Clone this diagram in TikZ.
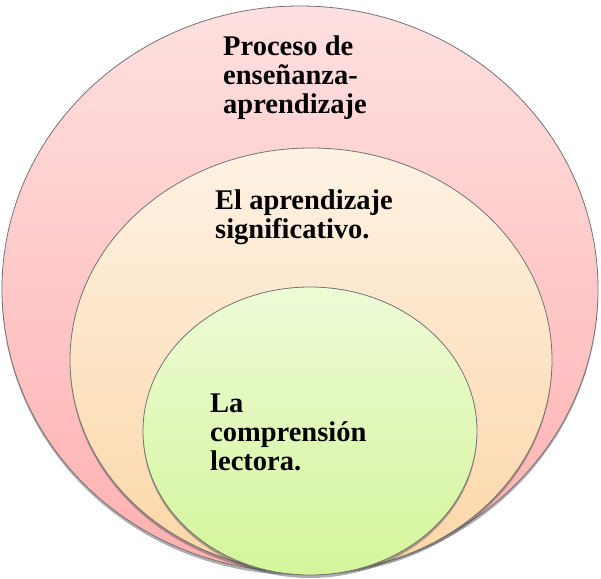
\documentclass[tikz,border=0pt]{standalone}
\usepackage{fontspec}
\setmainfont{Liberation Serif}
\usetikzlibrary{shadows,shapes.geometric}
\begin{document}
\begin{tikzpicture}[x=1pt,y=-1pt,
  ring/.style={ellipse,inner sep=0pt,draw=black!55,line width=0.8pt,
    drop shadow={shadow xshift=0pt,shadow yshift=-3pt,opacity=0.45,fill=black!70}},
  lbl/.style={inner sep=0pt,anchor=base west,align=left,font=\bfseries\fontsize{28.5}{29}\selectfont}]
\useasboundingbox (0,0) rectangle (601,578);
\node[ring,minimum width=596pt,minimum height=566pt,
  top color={rgb,255:red,255;green,224;blue,224},bottom color={rgb,255:red,255;green,176;blue,176}] (outer) at (300,289) {};
\node[ring,minimum width=482pt,minimum height=424pt,
  top color={rgb,255:red,254;green,242;blue,228},bottom color={rgb,255:red,252;green,214;blue,166}] (middle) at (311,360) {};
\node[ring,minimum width=334pt,minimum height=288pt,
  top color={rgb,255:red,237;green,251;blue,214},bottom color={rgb,255:red,212;green,245;blue,155}] (inner) at (310,431) {};
\node[lbl] (t1) at (223,113) {Proceso de\\enseñanza-\\aprendizaje};
\node[lbl] (t2) at (215,238) {El aprendizaje\\significativo.};
\node[lbl] (t3) at (210,470) {La\\comprensión\\lectora.};
\end{tikzpicture}
\end{document}
